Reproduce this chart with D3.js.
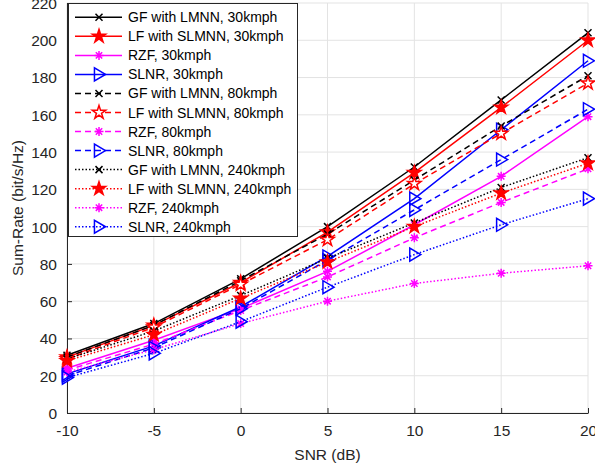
<!DOCTYPE html>
<html>
<head>
<meta charset="utf-8">
<script src="https://cdn.jsdelivr.net/npm/d3@7"></script>
<style>
  body { margin: 0; background: #fff; }
  text { font-family: "Liberation Sans", Arial, sans-serif; }
</style>
</head>
<body>
<div id="chart"></div>
<script>
// SNR sweep and sum-rate curves (bit/s/Hz)
var snr = [-10, -5, 0, 5, 10, 15, 20];

var gf30   = [31, 48, 72, 100, 132, 168, 204];
var lf30   = [30, 47, 70, 97, 129, 164, 200];
var rzf30  = [24, 39, 56, 76, 101, 127, 159];
var slnr30 = [21, 36, 57, 84, 115, 152, 189];

var gf80   = [30, 47, 71, 96, 125, 154, 181];
var lf80   = [29, 46, 69, 93, 123, 150, 177];
var rzf80  = [23, 37, 55, 73, 94, 113, 131];
var slnr80 = [20, 35, 56, 82, 109, 136, 163];

var gf240   = [29, 44, 63, 83, 102, 121, 137];
var lf240   = [28, 42, 61.5, 81, 100, 118, 134];
var rzf240  = [22, 34, 48, 60, 69.5, 75, 79];
var slnr240 = [19, 32, 49, 67.5, 85, 101, 115];

var yTicks = [0, 20, 40, 60, 80, 100, 120, 140, 160, 180, 200, 220];
var xTicks = [-10, -5, 0, 5, 10, 15, 20];

var series = [
  {name: "GF with LMNN, 30kmph", vals: gf30, color: "#000000", dash: null, mark: "x"},
  {name: "LF with SLMNN, 30kmph", vals: lf30, color: "#ff0000", dash: null, mark: "star", fill: true},
  {name: "RZF, 30kmph", vals: rzf30, color: "#ff00ff", dash: null, mark: "ast"},
  {name: "SLNR, 30kmph", vals: slnr30, color: "#0000ff", dash: null, mark: "tri"},
  {name: "GF with LMNN, 80kmph", vals: gf80, color: "#000000", dash: "6,4", mark: "x"},
  {name: "LF with SLMNN, 80kmph", vals: lf80, color: "#ff0000", dash: "6,4", mark: "star", fill: false},
  {name: "RZF, 80kmph", vals: rzf80, color: "#ff00ff", dash: "6,4", mark: "ast"},
  {name: "SLNR, 80kmph", vals: slnr80, color: "#0000ff", dash: "6,4", mark: "tri"},
  {name: "GF with LMNN, 240kmph", vals: gf240, color: "#000000", dash: "1.5,2", mark: "x"},
  {name: "LF with SLMNN, 240kmph", vals: lf240, color: "#ff0000", dash: "1.5,2", mark: "star", fill: true},
  {name: "RZF, 240kmph", vals: rzf240, color: "#ff00ff", dash: "1.5,2", mark: "ast"},
  {name: "SLNR, 240kmph", vals: slnr240, color: "#0000ff", dash: "1.5,2", mark: "tri"}
];

var svgWidth = 595;
var svgHeight = 471;
var margin = {top: 3, right: 7, bottom: 58, left: 67};
var width = svgWidth - margin.left - margin.right;
var height = svgHeight - margin.top - margin.bottom;

var svg = d3.select("#chart").append("svg")
  .attr("width", svgWidth)
  .attr("height", svgHeight);

var chartGroup = svg.append("g")
  .attr("transform", `translate(${margin.left}, ${margin.top})`);

var xScale = d3.scaleLinear().domain([-10, 20]).range([0, width]);
var yScale = d3.scaleLinear().domain([0, 220]).range([height, 0]);

// grid
chartGroup.append("g")
  .selectAll("line.gx")
  .data(xTicks)
  .enter()
  .append("line")
  .attr("x1", d => xScale(d)).attr("x2", d => xScale(d))
  .attr("y1", 0).attr("y2", height)
  .attr("stroke", "#e3e3e3").attr("stroke-width", 1);

chartGroup.append("g")
  .selectAll("line.gy")
  .data(yTicks)
  .enter()
  .append("line")
  .attr("x1", 0).attr("x2", width)
  .attr("y1", d => yScale(d)).attr("y2", d => yScale(d))
  .attr("stroke", "#e3e3e3").attr("stroke-width", 1);

// axes (ticks inside, like matlab)
var bottomAxis = d3.axisBottom(xScale).tickValues(xTicks).tickFormat(d => String(d))
  .tickSizeInner(-5).tickSizeOuter(0).tickPadding(12);
var leftAxis = d3.axisLeft(yScale).tickValues(yTicks).tickFormat(d => String(d))
  .tickSizeInner(-5).tickSizeOuter(0).tickPadding(10);

var gx = chartGroup.append("g")
  .attr("transform", `translate(0, ${height})`)
  .call(bottomAxis);
var gy = chartGroup.append("g").call(leftAxis);

[gx, gy].forEach(function(g) {
  g.select(".domain").attr("stroke", "#262626").attr("stroke-width", 1);
  g.selectAll(".tick line").attr("stroke", "#262626");
  g.selectAll(".tick text")
    .attr("fill", "#262626")
    .attr("font-size", "15.5px")
    .attr("font-family", "Liberation Sans, Arial, sans-serif");
});
gy.selectAll(".tick text").attr("dy", "0.35em");

svg.append("text")
  .attr("x", margin.left + width / 2)
  .attr("y", 460)
  .attr("text-anchor", "middle")
  .attr("font-size", "15.5px")
  .attr("fill", "#262626")
  .text("SNR (dB)");

svg.append("text")
  .attr("transform", `translate(23, ${margin.top + height / 2}) rotate(-90)`)
  .attr("text-anchor", "middle")
  .attr("font-size", "15.5px")
  .attr("fill", "#262626")
  .text("Sum-Rate (bit/s/Hz)");

// marker shapes
function drawMarker(g, s, cx, cy) {
  if (s.mark == "x") {
    var r = 3.5;
    g.append("path")
      .attr("d", `M${cx-r},${cy-r}L${cx+r},${cy+r}M${cx-r},${cy+r}L${cx+r},${cy-r}`)
      .attr("stroke", s.color).attr("stroke-width", 1.5).attr("fill", "none");
  } else if (s.mark == "star") {
    g.append("path")
      .attr("d", d3.symbol().type(d3.symbolStar).size(55)())
      .attr("transform", `translate(${cx},${cy})`)
      .attr("stroke", s.color).attr("stroke-width", 1.5)
      .attr("fill", s.fill ? s.color : "#fff");
  } else if (s.mark == "ast") {
    var a = 4.5, b = 3.2;
    g.append("path")
      .attr("d", `M${cx-a},${cy}L${cx+a},${cy}M${cx},${cy-a}L${cx},${cy+a}M${cx-b},${cy-b}L${cx+b},${cy+b}M${cx-b},${cy+b}L${cx+b},${cy-b}`)
      .attr("stroke", s.color).attr("stroke-width", 1.5).attr("fill", "none");
  } else if (s.mark == "tri") {
    var t = 6.5;
    g.append("path")
      .attr("d", `M${cx+t},${cy}L${cx-t*0.7},${cy-t}L${cx-t*0.7},${cy+t}Z`)
      .attr("stroke", s.color).attr("stroke-width", 1.5).attr("fill", "none");
  }
}

var line = d3.line()
  .x(function(d, i) { return xScale(snr[i]); })
  .y(function(d) { return yScale(d); });

series.forEach(function(s) {
  var g = chartGroup.append("g");
  g.append("path")
    .attr("d", line(s.vals))
    .attr("fill", "none")
    .attr("stroke", s.color)
    .attr("stroke-width", 1.5)
    .attr("stroke-dasharray", s.dash);
  s.vals.forEach(function(v, i) {
    drawMarker(g, s, xScale(snr[i]), yScale(v));
  });
});

// legend
var legend = svg.append("g");
legend.append("rect")
  .attr("x", 68.5).attr("y", 3.5)
  .attr("width", 229).attr("height", 233)
  .attr("fill", "#fff").attr("stroke", "#262626").attr("stroke-width", 1);

series.forEach(function(s, i) {
  var y = 17.3 + i * 19.04;
  var g = legend.append("g");
  g.append("line")
    .attr("x1", 75).attr("x2", 122)
    .attr("y1", y).attr("y2", y)
    .attr("stroke", s.color).attr("stroke-width", 1.5)
    .attr("stroke-dasharray", s.dash);
  drawMarker(g, s, 99, y);
  g.append("text")
    .attr("x", 128).attr("y", y + 5)
    .attr("font-size", "14px")
    .attr("fill", "#000")
    .text(s.name);
});
</script>
</body>
</html>
